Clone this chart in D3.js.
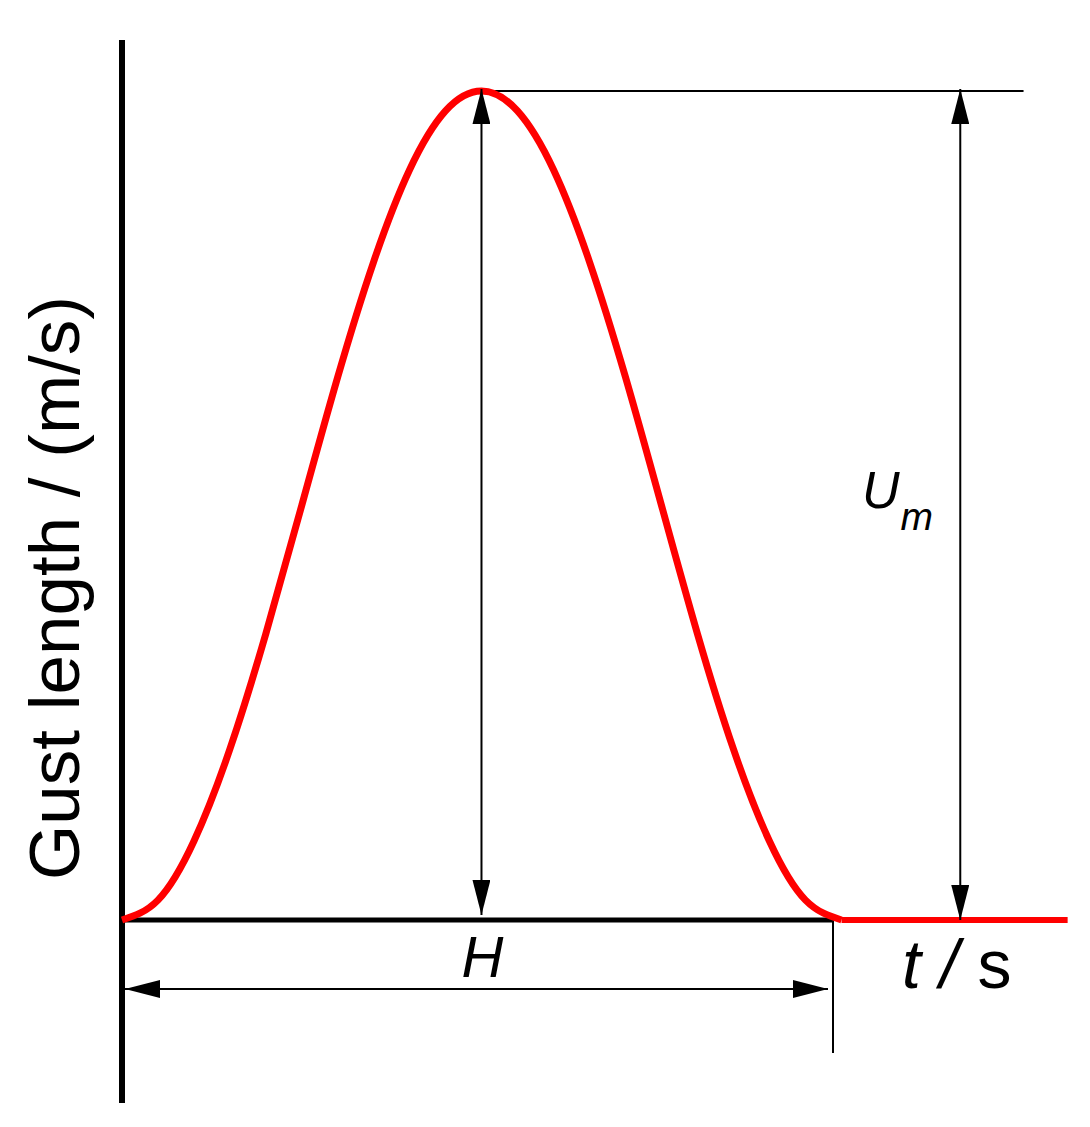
<!DOCTYPE html>
<html>
<head>
<meta charset="utf-8">
<script src="https://cdn.jsdelivr.net/npm/d3@7"></script>
<style>
  html, body { margin: 0; padding: 0; background: #fff; }
  svg { display: block; }
  text { font-family: "Liberation Sans", Arial, sans-serif; fill: #000; }
</style>
</head>
<body>
<svg id="chart" width="1090" height="1127"></svg>
<script>
// ---- data (time in units of gust duration H, velocity in units of U_m) ----
const gustTime  = [0, 0.0506, 0.1011, 0.1517, 0.2022, 0.2528, 0.3034, 0.3539, 0.4045, 0.4550, 0.5056,
                   0.5562, 0.6069, 0.6575, 0.7081, 0.7588, 0.8094, 0.8600, 0.9107, 0.9613, 1.0120];
const gustValue = [0, 0.024, 0.095, 0.206, 0.345, 0.50, 0.655, 0.794, 0.905, 0.976, 1.00,
                   0.976, 0.905, 0.794, 0.655, 0.50, 0.345, 0.206, 0.095, 0.024, 0];
const tailTime  = [1.012, 1.33];
const tailValue = [0, 0];
const peakTime  = 0.5056;
const peakValue = 1.0;
const labels = { y: "Gust length / (m/s)", H: "H", U: "U", Usub: "m", t: "t", slash: " / ", s: "s" };

// ---- layout ----
const svg = d3.select("#chart");
const x = d3.scaleLinear().domain([0, 1]).range([122, 833]);
const y = d3.scaleLinear().domain([0, 1]).range([920, 91]);

// arrow marker
const defs = svg.append("defs");
defs.append("marker")
  .attr("id", "arr")
  .attr("markerUnits", "userSpaceOnUse")
  .attr("viewBox", "0 0 35 18")
  .attr("refX", 35).attr("refY", 9)
  .attr("markerWidth", 35).attr("markerHeight", 18)
  .attr("orient", "auto-start-reverse")
  .append("path").attr("d", "M0,0 L35,9 L0,18 Z").attr("fill", "#000");

// axes
svg.append("line").attr("x1", x(0)).attr("x2", x(0))
  .attr("y1", 40).attr("y2", 1103)
  .attr("stroke", "#000").attr("stroke-width", 6);
svg.append("line").attr("x1", x(0)).attr("x2", x(1))
  .attr("y1", y(0)).attr("y2", y(0))
  .attr("stroke", "#000").attr("stroke-width", 5);

// thin dimension lines
svg.append("line").attr("x1", x(peakTime)).attr("x2", x(1.268))
  .attr("y1", y(peakValue)).attr("y2", y(peakValue))
  .attr("stroke", "#000").attr("stroke-width", 2);
svg.append("line").attr("x1", x(1)).attr("x2", x(1))
  .attr("y1", y(0)).attr("y2", 1053)
  .attr("stroke", "#000").attr("stroke-width", 2);

// red gust curve
const pts = gustTime.map((t, i) => [t, gustValue[i]]);
const line = d3.line().x(d => x(d[0])).y(d => y(d[1])).curve(d3.curveNatural);
svg.append("path").datum(pts).attr("d", line)
  .attr("fill", "none").attr("stroke", "#ff0000").attr("stroke-width", 7);
const tail = tailTime.map((t, i) => [t, tailValue[i]]);
svg.append("path").datum(tail).attr("d", d3.line().x(d => x(d[0])).y(d => y(d[1])))
  .attr("fill", "none").attr("stroke", "#ff0000").attr("stroke-width", 6);

// double arrows
function dbl(x1, y1, x2, y2) {
  svg.append("line").attr("x1", x1).attr("y1", y1).attr("x2", x2).attr("y2", y2)
    .attr("stroke", "#000").attr("stroke-width", 2)
    .attr("marker-start", "url(#arr)").attr("marker-end", "url(#arr)");
}
dbl(x(peakTime), y(peakValue) - 2, x(peakTime), y(0) - 5);
dbl(x(1.179), y(peakValue) - 2, x(1.179), y(0));
dbl(x(0) + 3, 989, x(1) - 5, 989);

// labels
svg.append("text").attr("x", x(peakTime) + 1).attr("y", 977)
  .attr("text-anchor", "middle").attr("font-size", 58).attr("font-style", "italic")
  .text(labels.H);

const tl = svg.append("text").attr("x", 902).attr("y", 988).attr("font-size", 68);
tl.append("tspan").attr("font-style", "italic").text(labels.t);
tl.append("tspan").attr("font-style", "italic").text(labels.slash);
tl.append("tspan").text(labels.s);

const ul = svg.append("text").attr("x", 862).attr("y", 508).attr("font-size", 52);
ul.append("tspan").attr("font-style", "italic").text(labels.U);
ul.append("tspan").attr("font-style", "italic").attr("font-size", 39).attr("dx", 1).attr("dy", 22).text(labels.Usub);

svg.append("text").attr("transform", "translate(79,588) rotate(-90)")
  .attr("text-anchor", "middle").attr("font-size", 71)
  .text(labels.y);
</script>
</body>
</html>
